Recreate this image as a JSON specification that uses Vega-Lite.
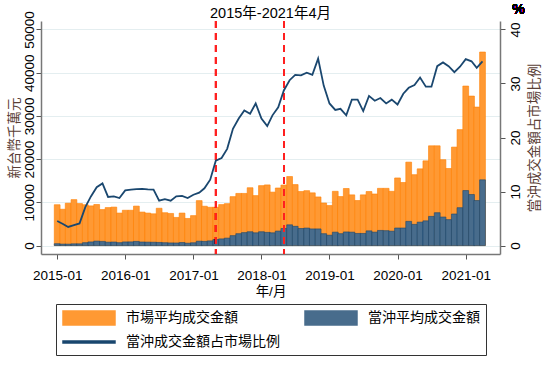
{
  "$schema": "https://vega.github.io/schema/vega-lite/v6.json",
  "width": 459,
  "height": 233,
  "padding": {"left": 7, "top": 2, "right": 4, "bottom": 4},
  "background": "white",
  "title": {"text": "2015年-2021年4月", "fontSize": 14.5, "fontWeight": "normal", "font": "Liberation Sans, Noto Sans CJK TC", "color": "#000000", "offset": -19},
  "config": {
    "view": {"stroke": null},
    "font": "Liberation Sans, Noto Sans CJK TC",
    "legend": {"layout": {"bottom": {"anchor": "middle"}}},
    "axis": {"labelFont": "Liberation Sans, Noto Sans CJK TC", "titleFont": "Liberation Sans, Noto Sans CJK TC", "labelFontSize": 13.5, "titleFontSize": 13.5, "titleFontWeight": "normal", "labelColor": "#000", "titleColor": "#000", "domainColor": "#777", "domainWidth": 1.5, "tickColor": "#555", "tickSize": 5, "gridColor": "#e4eef0", "gridWidth": 1}
  },
  "data": {"values": [
    {"date": "2015-01-15", "market": 9450, "daytrade": 430, "ratio": 4.55},
    {"date": "2015-02-15", "market": 8400, "daytrade": 340, "ratio": 4.0},
    {"date": "2015-03-15", "market": 9800, "daytrade": 330, "ratio": 3.45},
    {"date": "2015-04-15", "market": 10630, "daytrade": 400, "ratio": 3.8},
    {"date": "2015-05-15", "market": 9720, "daytrade": 400, "ratio": 4.1},
    {"date": "2015-06-15", "market": 9450, "daytrade": 670, "ratio": 7.1},
    {"date": "2015-07-15", "market": 9180, "daytrade": 840, "ratio": 9.1},
    {"date": "2015-08-15", "market": 9500, "daytrade": 1030, "ratio": 10.8},
    {"date": "2015-09-15", "market": 8320, "daytrade": 960, "ratio": 11.5},
    {"date": "2015-10-15", "market": 8790, "daytrade": 780, "ratio": 9.0},
    {"date": "2015-11-15", "market": 8900, "daytrade": 820, "ratio": 9.1},
    {"date": "2015-12-15", "market": 7520, "daytrade": 670, "ratio": 8.8},
    {"date": "2016-01-15", "market": 8170, "daytrade": 840, "ratio": 10.2},
    {"date": "2016-02-15", "market": 8170, "daytrade": 850, "ratio": 10.35},
    {"date": "2016-03-15", "market": 9130, "daytrade": 960, "ratio": 10.45},
    {"date": "2016-04-15", "market": 7750, "daytrade": 820, "ratio": 10.5},
    {"date": "2016-05-15", "market": 7520, "daytrade": 790, "ratio": 10.4},
    {"date": "2016-06-15", "market": 7350, "daytrade": 770, "ratio": 10.35},
    {"date": "2016-07-15", "market": 8630, "daytrade": 720, "ratio": 8.3},
    {"date": "2016-08-15", "market": 7600, "daytrade": 660, "ratio": 8.6},
    {"date": "2016-09-15", "market": 7430, "daytrade": 620, "ratio": 8.3},
    {"date": "2016-10-15", "market": 6510, "daytrade": 600, "ratio": 9.1},
    {"date": "2016-11-15", "market": 7520, "daytrade": 700, "ratio": 9.2},
    {"date": "2016-12-15", "market": 6270, "daytrade": 550, "ratio": 8.8},
    {"date": "2017-01-15", "market": 6930, "daytrade": 650, "ratio": 9.4},
    {"date": "2017-02-15", "market": 10400, "daytrade": 1010, "ratio": 9.8},
    {"date": "2017-03-15", "market": 9100, "daytrade": 960, "ratio": 10.6},
    {"date": "2017-04-15", "market": 8860, "daytrade": 1080, "ratio": 12.2},
    {"date": "2017-05-15", "market": 8860, "daytrade": 1390, "ratio": 15.7},
    {"date": "2017-06-15", "market": 9480, "daytrade": 1540, "ratio": 16.2},
    {"date": "2017-07-15", "market": 9700, "daytrade": 1720, "ratio": 17.9},
    {"date": "2017-08-15", "market": 11320, "daytrade": 2300, "ratio": 21.6},
    {"date": "2017-09-15", "market": 12060, "daytrade": 2750, "ratio": 23.5},
    {"date": "2017-10-15", "market": 12060, "daytrade": 3000, "ratio": 25.0},
    {"date": "2017-11-15", "market": 13380, "daytrade": 3200, "ratio": 24.4},
    {"date": "2017-12-15", "market": 11560, "daytrade": 2950, "ratio": 26.3},
    {"date": "2018-01-15", "market": 13870, "daytrade": 3200, "ratio": 23.5},
    {"date": "2018-02-15", "market": 14030, "daytrade": 3050, "ratio": 22.1},
    {"date": "2018-03-15", "market": 12360, "daytrade": 2950, "ratio": 24.1},
    {"date": "2018-04-15", "market": 13320, "daytrade": 3350, "ratio": 25.6},
    {"date": "2018-05-15", "market": 14000, "daytrade": 3950, "ratio": 28.7},
    {"date": "2018-06-15", "market": 15970, "daytrade": 4800, "ratio": 30.6},
    {"date": "2018-07-15", "market": 14100, "daytrade": 4450, "ratio": 31.6},
    {"date": "2018-08-15", "market": 12500, "daytrade": 3950, "ratio": 31.5},
    {"date": "2018-09-15", "market": 12700, "daytrade": 4050, "ratio": 32.0},
    {"date": "2018-10-15", "market": 12200, "daytrade": 3850, "ratio": 31.6},
    {"date": "2018-11-15", "market": 11250, "daytrade": 3850, "ratio": 34.6},
    {"date": "2018-12-15", "market": 9850, "daytrade": 2750, "ratio": 29.6},
    {"date": "2019-01-15", "market": 9260, "daytrade": 2400, "ratio": 26.3},
    {"date": "2019-02-15", "market": 12550, "daytrade": 3100, "ratio": 25.1},
    {"date": "2019-03-15", "market": 11340, "daytrade": 2750, "ratio": 25.3},
    {"date": "2019-04-15", "market": 13200, "daytrade": 3150, "ratio": 24.1},
    {"date": "2019-05-15", "market": 11730, "daytrade": 3100, "ratio": 27.0},
    {"date": "2019-06-15", "market": 10420, "daytrade": 2800, "ratio": 27.0},
    {"date": "2019-07-15", "market": 11730, "daytrade": 2800, "ratio": 24.9},
    {"date": "2019-08-15", "market": 12500, "daytrade": 3400, "ratio": 27.7},
    {"date": "2019-09-15", "market": 11930, "daytrade": 3100, "ratio": 26.8},
    {"date": "2019-10-15", "market": 13240, "daytrade": 3500, "ratio": 27.3},
    {"date": "2019-11-15", "market": 13240, "daytrade": 3450, "ratio": 26.3},
    {"date": "2019-12-15", "market": 12550, "daytrade": 3330, "ratio": 27.0},
    {"date": "2020-01-15", "market": 15640, "daytrade": 4060, "ratio": 26.1},
    {"date": "2020-02-15", "market": 14590, "daytrade": 4060, "ratio": 28.1},
    {"date": "2020-03-15", "market": 19300, "daytrade": 5600, "ratio": 29.2},
    {"date": "2020-04-15", "market": 16400, "daytrade": 4900, "ratio": 29.7},
    {"date": "2020-05-15", "market": 17750, "daytrade": 5420, "ratio": 31.1},
    {"date": "2020-06-15", "market": 19600, "daytrade": 5720, "ratio": 29.4},
    {"date": "2020-07-15", "market": 23080, "daytrade": 6750, "ratio": 29.4},
    {"date": "2020-08-15", "market": 23080, "daytrade": 7600, "ratio": 33.2},
    {"date": "2020-09-15", "market": 19870, "daytrade": 6600, "ratio": 33.9},
    {"date": "2020-10-15", "market": 17830, "daytrade": 6000, "ratio": 33.2},
    {"date": "2020-11-15", "market": 22780, "daytrade": 7300, "ratio": 32.1},
    {"date": "2020-12-15", "market": 26820, "daytrade": 8760, "ratio": 33.1},
    {"date": "2021-01-15", "market": 36900, "daytrade": 12730, "ratio": 34.5},
    {"date": "2021-02-15", "market": 34580, "daytrade": 11810, "ratio": 34.1},
    {"date": "2021-03-15", "market": 32040, "daytrade": 10420, "ratio": 32.9},
    {"date": "2021-04-15", "market": 44770, "daytrade": 15210, "ratio": 34.1}
  ]},
  "encoding": {
    "x": {"field": "date", "type": "temporal",
      "scale": {"domain": ["2014-11-16", "2021-06-21"]},
      "axis": {"title": "年/月", "format": "%Y-%m", "grid": false, "labelAngle": 0, "labelPadding": 9, "titlePadding": 3,
        "values": [{"year": 2015, "month": 1, "date": 15}, {"year": 2016, "month": 1, "date": 15}, {"year": 2017, "month": 1, "date": 15}, {"year": 2018, "month": 1, "date": 15}, {"year": 2019, "month": 1, "date": 15}, {"year": 2020, "month": 1, "date": 15}, {"year": 2021, "month": 1, "date": 15}]}
    }
  },
  "layer": [
    {
      "layer": [
        {
          "mark": {"type": "bar", "width": 5.8, "stroke": "#FF7F00", "strokeWidth": 0.6},
          "encoding": {
            "y": {"field": "market", "type": "quantitative",
              "scale": {"domain": [-1950, 51950], "nice": false, "zero": false},
              "axis": {"title": "新台幣千萬元", "titleColor": "#5a3e36", "format": "d", "values": [0, 10000, 20000, 30000, 40000, 50000], "labelAngle": -90, "labelAlign": "center", "labelBaseline": "bottom", "labelPadding": 0, "titlePadding": 1, "grid": true}},
            "y2": {"datum": 0},
            "color": {"datum": "市場平均成交金額", "type": "nominal",
              "scale": {"domain": ["市場平均成交金額", "當沖平均成交金額", "當沖成交金額占市場比例"], "range": ["#FF9933", "#486C8C", "#1A476F"]},
              "legend": {
                "orient": "bottom", "columns": 2, "direction": "horizontal", "title": null,
                "strokeColor": "#333", "padding": 6, "offset": 6,
                "symbolType": {"expr": "datum.value === '當沖成交金額占市場比例' ? 'M-3.714,-0.13L3.714,-0.13L3.714,0.13L-3.714,0.13Z' : 'M-3.714,-1L3.714,-1L3.714,1L-3.714,1Z'"},
                "symbolSize": 196,
                "labelFontSize": 14, "labelFont": "Liberation Sans, Noto Sans CJK TC", "labelColor": "#000", "labelOffset": 29,
                "symbolOffset": 19,
                "columnPadding": 22, "rowPadding": 6, "symbolOpacity": 1
              }}
          }
        },
        {
          "mark": {"type": "bar", "width": 5.8, "stroke": "#1A476F", "strokeWidth": 0.6},
          "encoding": {
            "y": {"field": "daytrade", "type": "quantitative"},
            "y2": {"datum": 0},
            "color": {"datum": "當沖平均成交金額", "type": "nominal"}
          }
        },
        {
          "mark": {"type": "rule", "color": "#ff2020", "strokeDash": [7, 5], "strokeWidth": 1.6},
          "encoding": {"x": {"datum": {"year": 2017, "month": 5, "date": 15}}}
        },
        {
          "mark": {"type": "rule", "color": "#ff2020", "strokeDash": [7, 5], "strokeWidth": 1.6},
          "encoding": {"x": {"datum": {"year": 2018, "month": 5, "date": 15}}}
        }
      ]
    },
    {
      "layer": [
        {
          "mark": {"type": "line", "strokeWidth": 1.8, "color": "#1A476F"},
          "encoding": {
            "y": {"field": "ratio", "type": "quantitative",
              "scale": {"domain": [-1.56, 41.56], "nice": false, "zero": false},
              "axis": {"orient": "right", "title": "當沖成交金額占市場比例", "titleColor": "#5a3e36", "titleAngle": -90, "titleBaseline": "top", "titlePadding": 6, "values": [0, 10, 20, 30, 40], "labelAngle": -90, "labelAlign": "center", "labelBaseline": "top", "labelPadding": 3, "grid": false}},
            "color": {"datum": "當沖成交金額占市場比例", "type": "nominal"}
          }
        },
        {
          "mark": {"type": "text", "text": "%", "fontSize": 14, "font": "Liberation Sans", "color": "#000"},
          "encoding": {
            "x": {"datum": {"year": 2021, "month": 10, "date": 25}},
            "y": {"datum": 43.6}
          }
        }
      ]
    }
  ],
  "resolve": {"scale": {"y": "independent"}}
}
